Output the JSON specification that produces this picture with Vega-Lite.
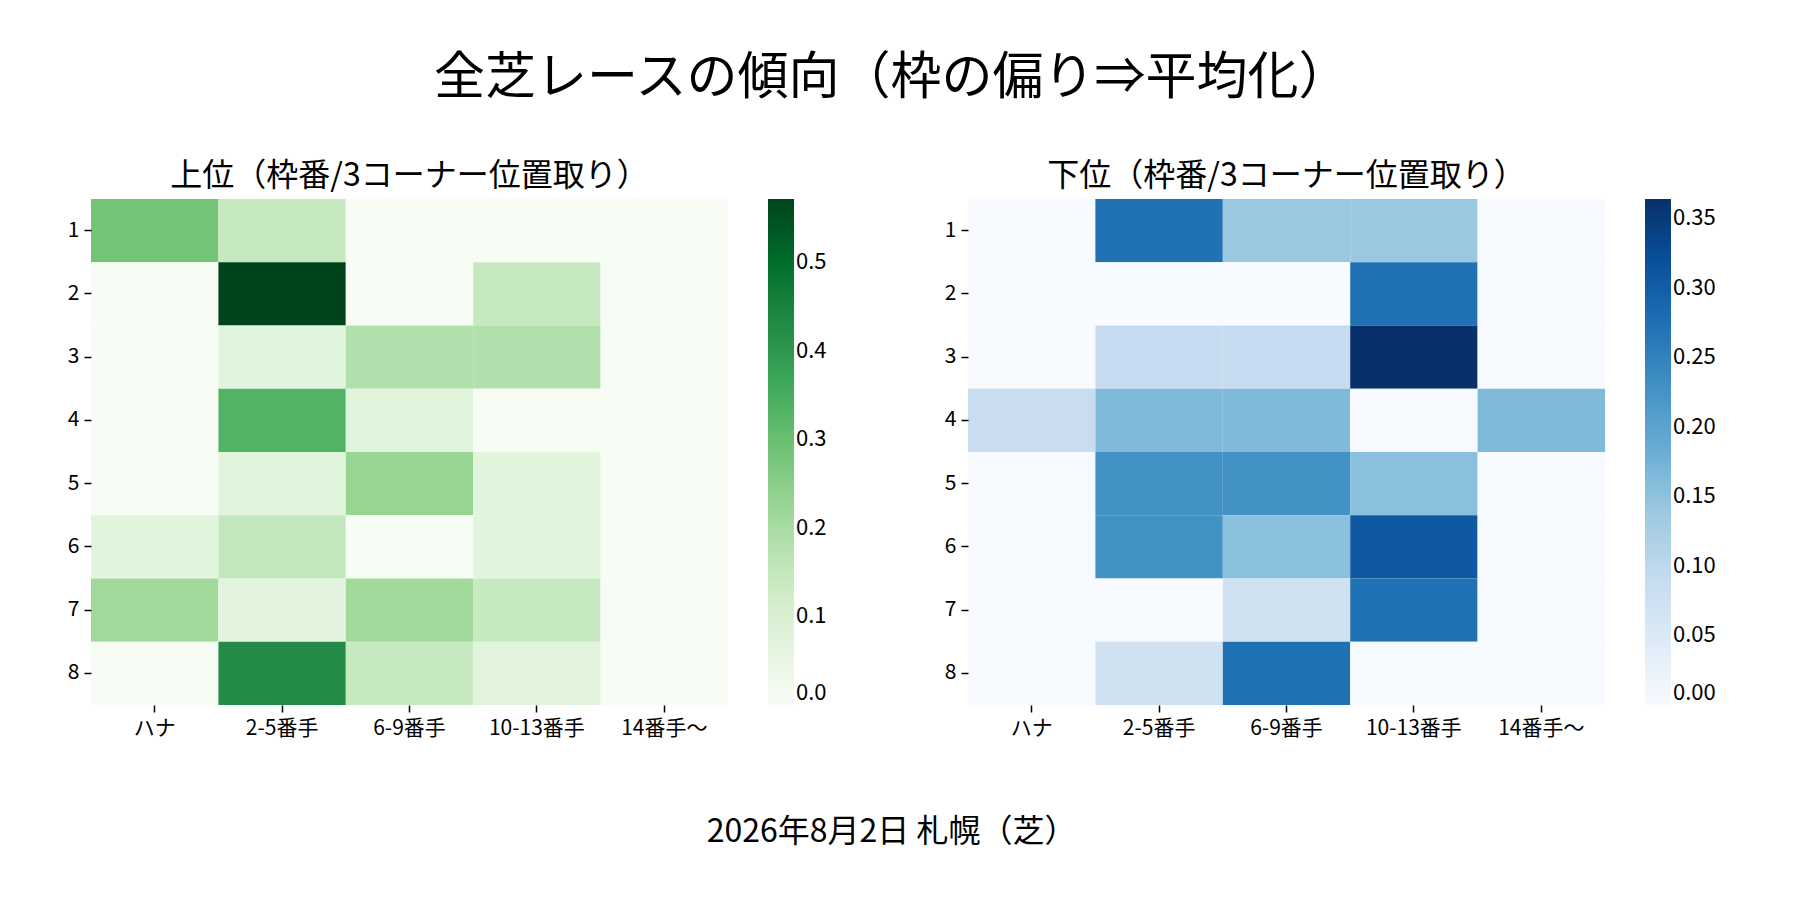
{
  "$schema": "https://vega.github.io/schema/vega-lite/v6.json",
  "padding": {"left": 67, "top": 53, "right": 72, "bottom": 50},
  "title": {
    "text": "2026年8月2日 札幌（芝）",
    "orient": "bottom",
    "anchor": "middle",
    "fontSize": 32,
    "fontWeight": "normal",
    "offset": 79
  },
  "datasets": {
    "top": [
      {"frame": 1, "pos": "ハナ", "rate": 0.286}, {"frame": 1, "pos": "2-5番手", "rate": 0.143}, {"frame": 1, "pos": "6-9番手", "rate": 0}, {"frame": 1, "pos": "10-13番手", "rate": 0}, {"frame": 1, "pos": "14番手～", "rate": 0},
      {"frame": 2, "pos": "ハナ", "rate": 0}, {"frame": 2, "pos": "2-5番手", "rate": 0.571}, {"frame": 2, "pos": "6-9番手", "rate": 0}, {"frame": 2, "pos": "10-13番手", "rate": 0.143}, {"frame": 2, "pos": "14番手～", "rate": 0},
      {"frame": 3, "pos": "ハナ", "rate": 0}, {"frame": 3, "pos": "2-5番手", "rate": 0.083}, {"frame": 3, "pos": "6-9番手", "rate": 0.182}, {"frame": 3, "pos": "10-13番手", "rate": 0.182}, {"frame": 3, "pos": "14番手～", "rate": 0},
      {"frame": 4, "pos": "ハナ", "rate": 0}, {"frame": 4, "pos": "2-5番手", "rate": 0.333}, {"frame": 4, "pos": "6-9番手", "rate": 0.083}, {"frame": 4, "pos": "10-13番手", "rate": 0}, {"frame": 4, "pos": "14番手～", "rate": 0},
      {"frame": 5, "pos": "ハナ", "rate": 0}, {"frame": 5, "pos": "2-5番手", "rate": 0.08}, {"frame": 5, "pos": "6-9番手", "rate": 0.229}, {"frame": 5, "pos": "10-13番手", "rate": 0.08}, {"frame": 5, "pos": "14番手～", "rate": 0},
      {"frame": 6, "pos": "ハナ", "rate": 0.08}, {"frame": 6, "pos": "2-5番手", "rate": 0.15}, {"frame": 6, "pos": "6-9番手", "rate": 0}, {"frame": 6, "pos": "10-13番手", "rate": 0.08}, {"frame": 6, "pos": "14番手～", "rate": 0},
      {"frame": 7, "pos": "ハナ", "rate": 0.214}, {"frame": 7, "pos": "2-5番手", "rate": 0.075}, {"frame": 7, "pos": "6-9番手", "rate": 0.214}, {"frame": 7, "pos": "10-13番手", "rate": 0.143}, {"frame": 7, "pos": "14番手～", "rate": 0},
      {"frame": 8, "pos": "ハナ", "rate": 0}, {"frame": 8, "pos": "2-5番手", "rate": 0.429}, {"frame": 8, "pos": "6-9番手", "rate": 0.143}, {"frame": 8, "pos": "10-13番手", "rate": 0.075}, {"frame": 8, "pos": "14番手～", "rate": 0}
    ],
    "bottom": [
      {"frame": 1, "pos": "ハナ", "rate": 0}, {"frame": 1, "pos": "2-5番手", "rate": 0.273}, {"frame": 1, "pos": "6-9番手", "rate": 0.14}, {"frame": 1, "pos": "10-13番手", "rate": 0.14}, {"frame": 1, "pos": "14番手～", "rate": 0},
      {"frame": 2, "pos": "ハナ", "rate": 0}, {"frame": 2, "pos": "2-5番手", "rate": 0}, {"frame": 2, "pos": "6-9番手", "rate": 0}, {"frame": 2, "pos": "10-13番手", "rate": 0.273}, {"frame": 2, "pos": "14番手～", "rate": 0},
      {"frame": 3, "pos": "ハナ", "rate": 0}, {"frame": 3, "pos": "2-5番手", "rate": 0.091}, {"frame": 3, "pos": "6-9番手", "rate": 0.091}, {"frame": 3, "pos": "10-13番手", "rate": 0.364}, {"frame": 3, "pos": "14番手～", "rate": 0},
      {"frame": 4, "pos": "ハナ", "rate": 0.084}, {"frame": 4, "pos": "2-5番手", "rate": 0.163}, {"frame": 4, "pos": "6-9番手", "rate": 0.163}, {"frame": 4, "pos": "10-13番手", "rate": 0}, {"frame": 4, "pos": "14番手～", "rate": 0.163},
      {"frame": 5, "pos": "ハナ", "rate": 0}, {"frame": 5, "pos": "2-5番手", "rate": 0.227}, {"frame": 5, "pos": "6-9番手", "rate": 0.227}, {"frame": 5, "pos": "10-13番手", "rate": 0.154}, {"frame": 5, "pos": "14番手～", "rate": 0},
      {"frame": 6, "pos": "ハナ", "rate": 0}, {"frame": 6, "pos": "2-5番手", "rate": 0.227}, {"frame": 6, "pos": "6-9番手", "rate": 0.154}, {"frame": 6, "pos": "10-13番手", "rate": 0.307}, {"frame": 6, "pos": "14番手～", "rate": 0},
      {"frame": 7, "pos": "ハナ", "rate": 0}, {"frame": 7, "pos": "2-5番手", "rate": 0}, {"frame": 7, "pos": "6-9番手", "rate": 0.072}, {"frame": 7, "pos": "10-13番手", "rate": 0.273}, {"frame": 7, "pos": "14番手～", "rate": 0},
      {"frame": 8, "pos": "ハナ", "rate": 0}, {"frame": 8, "pos": "2-5番手", "rate": 0.072}, {"frame": 8, "pos": "6-9番手", "rate": 0.273}, {"frame": 8, "pos": "10-13番手", "rate": 0}, {"frame": 8, "pos": "14番手～", "rate": 0}
    ]
  },
  "vconcat": [
    {
      "title": {
        "text": "全芝レースの傾向（枠の偏り⇒平均化）",
        "anchor": "middle",
        "fontSize": 51,
        "fontWeight": "normal",
        "offset": 55
      },
      "bounds": "flush",
      "spacing": 240,
      "hconcat": [
        {
          "title": {"text": "上位（枠番/3コーナー位置取り）", "fontSize": 32, "fontWeight": "normal", "offset": 6},
          "width": 637,
          "height": 506,
          "data": {"name": "top"},
          "mark": {"type": "rect", "strokeWidth": 0},
          "encoding": {
            "x": {
              "field": "pos", "type": "nominal",
              "sort": ["ハナ", "2-5番手", "6-9番手", "10-13番手", "14番手～"],
              "axis": {"title": null}
            },
            "y": {"field": "frame", "type": "ordinal", "axis": {"title": null}},
            "color": {
              "field": "rate", "type": "quantitative",
              "scale": {
                "domain": [0, 0.571],
                "range": ["#f7fcf5", "#e5f5e0", "#c7e9c0", "#a1d99b", "#74c476", "#41ab5d", "#238b45", "#006d2c", "#00441b"],
                "interpolate": "rgb"
              },
              "legend": {
                "title": null,
                "values": [0, 0.1, 0.2, 0.3, 0.4, 0.5],
                "format": ".1f"
              }
            }
          }
        },
        {
          "title": {"text": "下位（枠番/3コーナー位置取り）", "fontSize": 32, "fontWeight": "normal", "offset": 6},
          "width": 637,
          "height": 506,
          "data": {"name": "bottom"},
          "mark": {"type": "rect", "strokeWidth": 0},
          "encoding": {
            "x": {
              "field": "pos", "type": "nominal",
              "sort": ["ハナ", "2-5番手", "6-9番手", "10-13番手", "14番手～"],
              "axis": {"title": null}
            },
            "y": {"field": "frame", "type": "ordinal", "axis": {"title": null}},
            "color": {
              "field": "rate", "type": "quantitative",
              "scale": {
                "domain": [0, 0.364],
                "range": ["#f7fbff", "#deebf7", "#c6dbef", "#9ecae1", "#6baed6", "#4292c6", "#2171b5", "#08519c", "#08306b"],
                "interpolate": "rgb"
              },
              "legend": {
                "title": null,
                "values": [0, 0.05, 0.1, 0.15, 0.2, 0.25, 0.3, 0.35],
                "format": ".2f"
              }
            }
          }
        }
      ],
      "resolve": {"scale": {"color": "independent"}}
    }
  ],
  "config": {
    "font": "Noto Sans CJK JP",
    "view": {"stroke": null},
    "title": {"color": "#000000"},
    "axis": {
      "labelFont": "Noto Sans CJK JP",
      "labelFontSize": 21,
      "labelColor": "#000000",
      "labelAngle": 0,
      "labelPadding": 5,
      "domain": false,
      "grid": false,
      "ticks": true,
      "tickSize": 7,
      "tickColor": "#000000",
      "tickWidth": 1.5
    },
    "legend": {
      "orient": "right",
      "direction": "vertical",
      "gradientLength": 506,
      "gradientThickness": 26,
      "gradientStrokeWidth": 0,
      "offset": 40,
      "padding": 0,
      "labelFontSize": 22,
      "labelColor": "#000000",
      "labelOffset": 16,
      "labelOverlap": false
    }
  }
}
